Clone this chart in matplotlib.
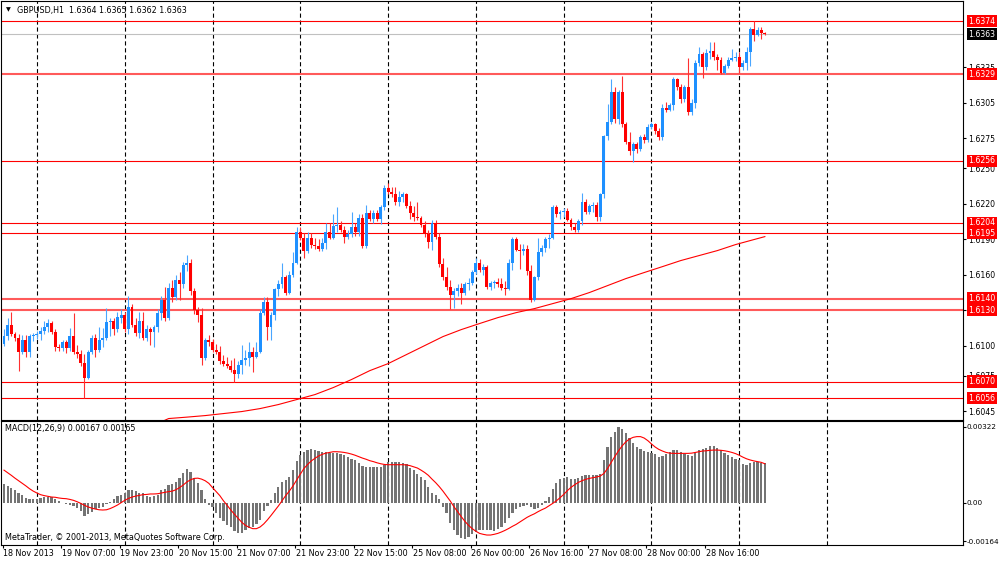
import matplotlib
matplotlib.use('Agg')
import matplotlib.pyplot as plt
import numpy as np

plt.rcParams['lines.scale_dashes'] = False
plt.rcParams['font.family'] = ['DejaVu Sans']

# ---------------- data (GBPUSD H1) ----------------
opens = [1.6102,1.6108,1.6118,1.6110,1.6107,1.6095,1.6105,1.6095,1.6108,1.6109,
1.6110,1.6113,1.6116,1.6119,1.6112,1.6099,1.6098,1.6103,1.6098,1.6108,
1.6095,1.6093,1.6086,1.6073,1.6095,1.6107,1.6097,1.6105,1.6107,1.6120,
1.6121,1.6114,1.6124,1.6126,1.6114,1.6133,1.6118,1.6111,1.6121,1.6107,
1.6114,1.6112,1.6116,1.6128,1.6139,1.6124,1.6149,1.6141,1.6156,1.6152,
1.6168,1.6170,1.6146,1.6130,1.6126,1.6090,1.6105,1.6103,1.6097,1.6095,
1.6087,1.6085,1.6083,1.6080,1.6076,1.6084,1.6088,1.6090,1.6095,1.6091,
1.6095,1.6128,1.6137,1.6116,1.6126,1.6148,1.6152,1.6158,1.6145,1.6160,
1.6170,1.6196,1.6191,1.6180,1.6191,1.6185,1.6184,1.6182,1.6187,1.6196,
1.6191,1.6201,1.6202,1.6198,1.6192,1.6194,1.6200,1.6196,1.6208,1.6184,
1.6212,1.6207,1.6212,1.6207,1.6217,1.6233,1.6230,1.6228,1.6221,1.6226,
1.6228,1.6218,1.6212,1.6209,1.6208,1.6202,1.6194,1.6188,1.6204,1.6192,
1.6169,1.6158,1.6150,1.6143,1.6146,1.6149,1.6145,1.6152,1.6153,1.6162,
1.6170,1.6164,1.6167,1.6150,1.6153,1.6154,1.6152,1.6149,1.6148,1.6170,
1.6190,1.6181,1.6180,1.6182,1.6163,1.6139,1.6158,1.6179,1.6183,1.6190,
1.6191,1.6217,1.6211,1.6213,1.6214,1.6206,1.6200,1.6198,1.6205,1.6221,
1.6213,1.6218,1.6219,1.6209,1.6228,1.6277,1.6289,1.6314,1.6291,1.6314,
1.6287,1.6272,1.6264,1.6270,1.6266,1.6276,1.6274,1.6285,1.6287,1.6281,
1.6276,1.6301,1.6299,1.6303,1.6325,1.6318,1.6308,1.6318,1.6297,1.6305,
1.6339,1.6346,1.6335,1.6347,1.6349,1.6344,1.6341,1.6330,1.6336,1.6341,
1.6343,1.6344,1.6335,1.6339,1.6348,1.6367,1.6362,1.6366,1.6364]
highs = [1.6114,1.6124,1.6129,1.6112,1.6110,1.6109,1.6109,1.6110,1.6111,1.6113,
1.6116,1.6121,1.6123,1.6121,1.6114,1.6102,1.6105,1.6105,1.6115,1.6128,
1.6101,1.6097,1.6093,1.6097,1.6109,1.6110,1.6116,1.6115,1.6132,1.6124,
1.6124,1.6129,1.6131,1.6129,1.6142,1.6135,1.6124,1.6129,1.6129,1.6118,
1.6116,1.6118,1.6131,1.6142,1.6150,1.6153,1.6156,1.6160,1.6162,1.6171,
1.6177,1.6173,1.6149,1.6133,1.6132,1.6107,1.6109,1.6106,1.6102,1.6100,
1.6092,1.6091,1.6088,1.6090,1.6087,1.6101,1.6097,1.6103,1.6099,1.6103,
1.6131,1.6141,1.6141,1.6129,1.6149,1.6156,1.6170,1.6160,1.6163,1.6179,
1.6200,1.6200,1.6195,1.6196,1.6195,1.6191,1.6190,1.6191,1.6204,1.6204,
1.6211,1.6217,1.6205,1.6201,1.6198,1.6213,1.6204,1.6211,1.6211,1.6219,
1.6215,1.6215,1.6215,1.6219,1.6236,1.6237,1.6234,1.6234,1.6231,1.6230,
1.6229,1.6222,1.6218,1.6221,1.6210,1.6205,1.6198,1.6206,1.6206,1.6195,
1.6174,1.6167,1.6156,1.6149,1.6152,1.6153,1.6154,1.6157,1.6164,1.6174,
1.6173,1.6169,1.6168,1.6155,1.6156,1.6157,1.6157,1.6155,1.6173,1.6192,
1.6192,1.6186,1.6186,1.6185,1.6168,1.6159,1.6191,1.6185,1.6192,1.6194,
1.6219,1.6219,1.6215,1.6216,1.6216,1.6208,1.6204,1.6207,1.6229,1.6224,
1.6220,1.6221,1.6221,1.6229,1.6278,1.6304,1.6325,1.6318,1.6316,1.6328,
1.6289,1.6280,1.6272,1.6272,1.6278,1.6279,1.6287,1.6289,1.6288,1.6284,
1.6304,1.6306,1.6305,1.6327,1.6326,1.6321,1.6320,1.6343,1.6308,1.6341,
1.6352,1.6348,1.6350,1.6356,1.6356,1.6346,1.6344,1.6338,1.6344,1.6350,
1.6348,1.6348,1.6341,1.6352,1.6369,1.6374,1.6369,1.6369,1.6365]
lows = [1.6100,1.6105,1.6108,1.6104,1.6079,1.6093,1.6091,1.6091,1.6104,1.6106,
1.6105,1.6110,1.6112,1.6110,1.6096,1.6096,1.6096,1.6094,1.6096,1.6093,
1.6090,1.6083,1.6056,1.6072,1.6093,1.6091,1.6095,1.6099,1.6105,1.6108,
1.6109,1.6112,1.6119,1.6112,1.6110,1.6116,1.6108,1.6107,1.6105,1.6104,
1.6101,1.6099,1.6112,1.6122,1.6121,1.6122,1.6137,1.6139,1.6139,1.6149,
1.6163,1.6143,1.6127,1.6120,1.6084,1.6088,1.6100,1.6095,1.6093,1.6085,
1.6083,1.6081,1.6078,1.6070,1.6073,1.6076,1.6084,1.6083,1.6078,1.6090,
1.6094,1.6126,1.6105,1.6105,1.6122,1.6142,1.6149,1.6143,1.6144,1.6158,
1.6169,1.6189,1.6174,1.6178,1.6183,1.6182,1.6180,1.6180,1.6182,1.6190,
1.6190,1.6196,1.6196,1.6187,1.6190,1.6192,1.6193,1.6193,1.6183,1.6183,
1.6205,1.6204,1.6205,1.6203,1.6215,1.6228,1.6226,1.6219,1.6218,1.6221,
1.6216,1.6207,1.6205,1.6206,1.6200,1.6192,1.6183,1.6181,1.6190,1.6167,
1.6156,1.6147,1.6131,1.6132,1.6142,1.6135,1.6143,1.6147,1.6151,1.6161,
1.6162,1.6160,1.6148,1.6147,1.6149,1.6150,1.6147,1.6143,1.6147,1.6164,
1.6180,1.6165,1.6177,1.6160,1.6137,1.6138,1.6156,1.6176,1.6179,1.6183,
1.6190,1.6209,1.6207,1.6209,1.6205,1.6198,1.6196,1.6196,1.6202,1.6211,
1.6211,1.6213,1.6205,1.6205,1.6225,1.6274,1.6287,1.6288,1.6287,1.6285,
1.6270,1.6261,1.6255,1.6263,1.6264,1.6271,1.6272,1.6283,1.6279,1.6274,
1.6274,1.6297,1.6298,1.6299,1.6316,1.6305,1.6306,1.6295,1.6295,1.6301,
1.6336,1.6326,1.6333,1.6342,1.6341,1.6333,1.6329,1.6329,1.6334,1.6340,
1.6340,1.6330,1.6333,1.6333,1.6336,1.6357,1.6361,1.6359,1.6362]
closes = [1.6108,1.6118,1.6110,1.6107,1.6095,1.6105,1.6095,1.6108,1.6109,1.6110,
1.6113,1.6116,1.6119,1.6112,1.6099,1.6098,1.6103,1.6098,1.6108,1.6095,
1.6093,1.6086,1.6073,1.6095,1.6107,1.6097,1.6105,1.6107,1.6120,1.6121,
1.6114,1.6124,1.6126,1.6114,1.6133,1.6118,1.6111,1.6121,1.6107,1.6114,
1.6112,1.6116,1.6128,1.6139,1.6124,1.6149,1.6141,1.6156,1.6152,1.6168,
1.6170,1.6146,1.6130,1.6126,1.6090,1.6105,1.6103,1.6097,1.6095,1.6087,
1.6085,1.6083,1.6080,1.6076,1.6084,1.6088,1.6090,1.6095,1.6091,1.6095,
1.6128,1.6137,1.6116,1.6126,1.6148,1.6152,1.6158,1.6145,1.6160,1.6170,
1.6196,1.6191,1.6180,1.6191,1.6185,1.6184,1.6182,1.6187,1.6196,1.6191,
1.6201,1.6202,1.6198,1.6192,1.6194,1.6200,1.6196,1.6208,1.6184,1.6212,
1.6207,1.6212,1.6207,1.6217,1.6233,1.6230,1.6228,1.6221,1.6226,1.6228,
1.6218,1.6212,1.6209,1.6208,1.6202,1.6194,1.6188,1.6204,1.6192,1.6169,
1.6158,1.6150,1.6143,1.6146,1.6149,1.6145,1.6152,1.6153,1.6162,1.6170,
1.6164,1.6167,1.6150,1.6153,1.6154,1.6152,1.6149,1.6148,1.6170,1.6190,
1.6181,1.6180,1.6182,1.6163,1.6139,1.6158,1.6179,1.6183,1.6190,1.6191,
1.6217,1.6211,1.6213,1.6214,1.6206,1.6200,1.6198,1.6205,1.6221,1.6213,
1.6218,1.6219,1.6209,1.6228,1.6277,1.6289,1.6314,1.6291,1.6314,1.6287,
1.6272,1.6264,1.6270,1.6266,1.6276,1.6274,1.6285,1.6287,1.6281,1.6276,
1.6301,1.6299,1.6303,1.6325,1.6318,1.6308,1.6318,1.6297,1.6305,1.6339,
1.6346,1.6335,1.6347,1.6349,1.6344,1.6341,1.6330,1.6336,1.6341,1.6343,
1.6344,1.6335,1.6339,1.6348,1.6367,1.6362,1.6366,1.6364,1.6363]

# moving average (read every few bars)
ma_idx = [43,45,50,55,60,65,70,75,80,85,90,95,100,105,110,115,120,125,130,135,
          140,145,150,155,160,165,170,175,180,185,190,195,200,205,208]
ma_vals = [1.6036,1.60388,1.60400,1.60413,1.60430,1.60447,1.60472,1.60506,1.60548,
           1.60590,1.60649,1.60717,1.60792,1.60851,1.60927,1.61003,1.61079,1.61138,
           1.61189,1.61239,1.61281,1.61315,1.61357,1.61399,1.61450,1.61509,1.61568,
           1.61619,1.61669,1.61720,1.61762,1.61804,1.61855,1.61897,1.61922]

macd_hist = [79,71,64,54,42,31,20,14,14,16,
20,24,25,23,14,6,-1,-7,-10,-14,
-24,-37,-56,-49,-38,-28,-24,-17,-7,3,
17,27,32,41,52,54,49,42,40,30,
25,27,32,52,56,73,79,86,103,126,
141,130,103,82,54,14,-10,-20,-42,-64,
-79,-93,-104,-121,-127,-127,-117,-109,-104,-90,
-75,-34,-13,10,40,65,88,96,109,138,
178,203,215,223,226,223,220,216,213,212,
212,209,208,201,193,186,179,169,155,152,
152,152,150,151,161,171,174,174,171,169,
162,148,137,123,110,95,66,42,31,17,
-17,-45,-85,-114,-137,-151,-155,-145,-131,-123,
-116,-116,-116,-117,-119,-113,-104,-88,-66,-45,
-28,-20,-14,-11,-20,-27,-24,-10,8,23,
56,82,99,104,107,102,99,104,113,116,
116,116,116,121,181,237,280,301,322,313,
297,273,254,237,227,219,215,210,206,195,
198,206,213,223,225,215,208,201,196,212,
223,227,232,240,240,230,222,209,202,193,
186,181,164,161,167,171,171,169,167]
macd_signal = [138,127,116,104,93,82,71,59,49,41,
34,30,27,24,23,20,18,17,14,10,
4,-3,-11,-18,-23,-27,-30,-31,-30,-25,
-18,-10,0,10,18,24,28,31,34,35,
37,37,38,41,44,47,49,55,64,75,
88,97,103,104,100,93,82,64,47,30,
8,-11,-31,-49,-66,-83,-96,-104,-110,-110,
-103,-90,-73,-54,-34,-14,8,30,49,71,
96,121,145,162,177,188,198,205,210,213,
216,216,215,213,210,206,201,195,189,184,
178,174,169,165,162,161,161,161,161,161,
160,157,152,147,138,128,116,100,85,68,
49,28,7,-17,-38,-59,-79,-96,-110,-121,
-130,-134,-137,-137,-134,-130,-124,-117,-109,-100,
-92,-82,-72,-62,-54,-47,-38,-30,-23,-13,
-3,8,21,35,51,65,76,86,93,99,
103,106,109,113,124,145,171,196,220,241,
258,270,277,280,280,274,263,249,236,226,
219,213,210,209,209,209,209,209,210,213,
216,219,220,222,223,223,222,220,217,213,
208,201,193,186,181,177,174,171,165]
macd_unit = 1e-5  # values above are in units of 0.00001

red_levels = [1.6374, 1.6329, 1.6256, 1.6204, 1.6195, 1.6140, 1.6130, 1.6070, 1.6056]
thick_levels = [1.6329, 1.6140, 1.6130]
bid = 1.6363
price_ticks = [1.6335, 1.6305, 1.6275, 1.6250, 1.6220, 1.6190, 1.6160, 1.6130, 1.6100, 1.6075, 1.6045]
macd_ticks = [0.00322, 0.0, -0.00164]
macd_tick_labels = ['0.00322', '0.00', '-0.00164']
time_labels = ['18 Nov 2013', '19 Nov 07:00', '19 Nov 23:00', '20 Nov 15:00', '21 Nov 07:00',
               '21 Nov 23:00', '22 Nov 15:00', '25 Nov 08:00', '26 Nov 00:00', '26 Nov 16:00',
               '27 Nov 08:00', '28 Nov 00:00', '28 Nov 16:00']
time_label_idx = [0, 16, 32, 48, 64, 80, 96, 112, 128, 144, 160, 176, 192]
grid_idx = [9, 33, 57, 81, 105, 129, 153, 177, 201, 225]
header = 'GBPUSD,H1  1.6364 1.6365 1.6362 1.6363'
macd_title = 'MACD(12,26,9) 0.00167 0.00165'
copyright_txt = 'MetaTrader, \u00a9 2001-2013, MetaQuotes Software Corp.'

# ---------------- figure ----------------
W, H = 1000, 562
fig = plt.figure(figsize=(10, 5.62), dpi=100, facecolor='white')
fx = lambda px: px / W
fy = lambda py: 1 - py / H

ax = fig.add_axes([fx(1), fy(420), fx(963) - fx(1), fy(1) - fy(420)])
axm = fig.add_axes([fx(1), fy(545), fx(963) - fx(1), fy(421) - fy(545)])

FS = 5.8
TFS = 5.6
BLUE = '#1E90FF'
RED = '#FF0000'

o = np.array(opens); h = np.array(highs); l = np.array(lows); c = np.array(closes)
x = np.arange(len(o))
up = c >= o
cols = np.where(up, BLUE, RED)
wick_cols = np.where(up, '#4AA6FF', '#FF3030')

xl = ((1 - 4) / 3.658, (963 - 4) / 3.658)
for a in (ax, axm):
    a.set_xlim(*xl)
    a.set_facecolor('white')
    for s in a.spines.values():
        s.set_linewidth(0.8)
        s.set_color('black')
    for g in grid_idx:
        a.axvline(g, color='black', lw=0.8, ls=(0, (3, 2)), zorder=1)

ax.set_ylim(1.6374 - 399 / 11860, 1.6374 + 20 / 11860)

# horizontal levels
for lv in red_levels:
    if lv in thick_levels:
        ax.axhline(lv, color='#FF5A5A', lw=1.5, zorder=2)
    else:
        ax.axhline(lv, color=RED, lw=0.8, zorder=2)
ax.axhline(bid, color='#C0C0C0', lw=0.8, zorder=2)

# moving average
ax.plot(ma_idx, ma_vals, color=RED, lw=0.8, zorder=2.5)

# candles
ax.vlines(x, l, h, colors=wick_cols, lw=0.8, zorder=3)
body_b = np.minimum(o, c)
body_h = np.maximum(np.abs(c - o), 0.00009)
ax.bar(x, body_h, width=0.8, bottom=body_b, color=cols, linewidth=0, zorder=4)

# price axis
ax.yaxis.tick_right()
ax.set_yticks(price_ticks)
ax.set_yticklabels(['%.4f' % t for t in price_ticks])
ax.tick_params(axis='y', length=2.5, width=0.8, labelsize=TFS, pad=1.2, colors='black')
ax.set_xticks([])

ytr = ax.get_yaxis_transform()
for lv in red_levels:
    ax.text(1.0195, lv, '%.4f' % lv, transform=ytr, ha='center', va='center',
            fontsize=TFS, color='white', zorder=10, clip_on=False,
            bbox=dict(boxstyle='square,pad=0.2', fc=RED, ec='none'))
ax.text(1.0195, bid, '%.4f' % bid, transform=ytr, ha='center', va='center',
        fontsize=TFS, color='white', zorder=10, clip_on=False,
        bbox=dict(boxstyle='square,pad=0.2', fc='black', ec='none'))

# MACD panel
hist = np.array(macd_hist) * macd_unit
sig = np.array(macd_signal) * macd_unit
axm.bar(x, hist, width=0.62, color='#747474', linewidth=0, zorder=3)
axm.plot(x, sig, color=RED, lw=0.8, zorder=4)
axm.set_ylim(-(545 - 502.7) / 23600, (502.7 - 421) / 23600)
axm.yaxis.tick_right()
axm.set_yticks(macd_ticks)
axm.set_yticklabels(macd_tick_labels)
axm.tick_params(axis='y', length=2.5, width=0.8, labelsize=5.2, pad=0.3, colors='black')
axm.set_xticks([t - 0.4 for t in time_label_idx])
axm.set_xticklabels([])
axm.tick_params(axis='x', length=2.5, width=0.8, direction='out')

xtr = axm.get_xaxis_transform()
for t, lab in zip(time_label_idx, time_labels):
    axm.text(t - 0.2, (545 - 554) / 124, lab, transform=xtr, ha='left', va='center',
             fontsize=FS, color='black', clip_on=False)

# texts
fig.text(fx(6), fy(10), '\u25bc', fontsize=4.5, ha='left', va='center', color='black')
fig.text(fx(17), fy(10), header, fontsize=FS, ha='left', va='center', color='black')
fig.text(fx(5), fy(429), macd_title, fontsize=FS, ha='left', va='center', color='black')
fig.text(fx(5), fy(538), copyright_txt, fontsize=FS, ha='left', va='center', color='black')

fig.savefig('out.png', dpi=100, facecolor='white')
